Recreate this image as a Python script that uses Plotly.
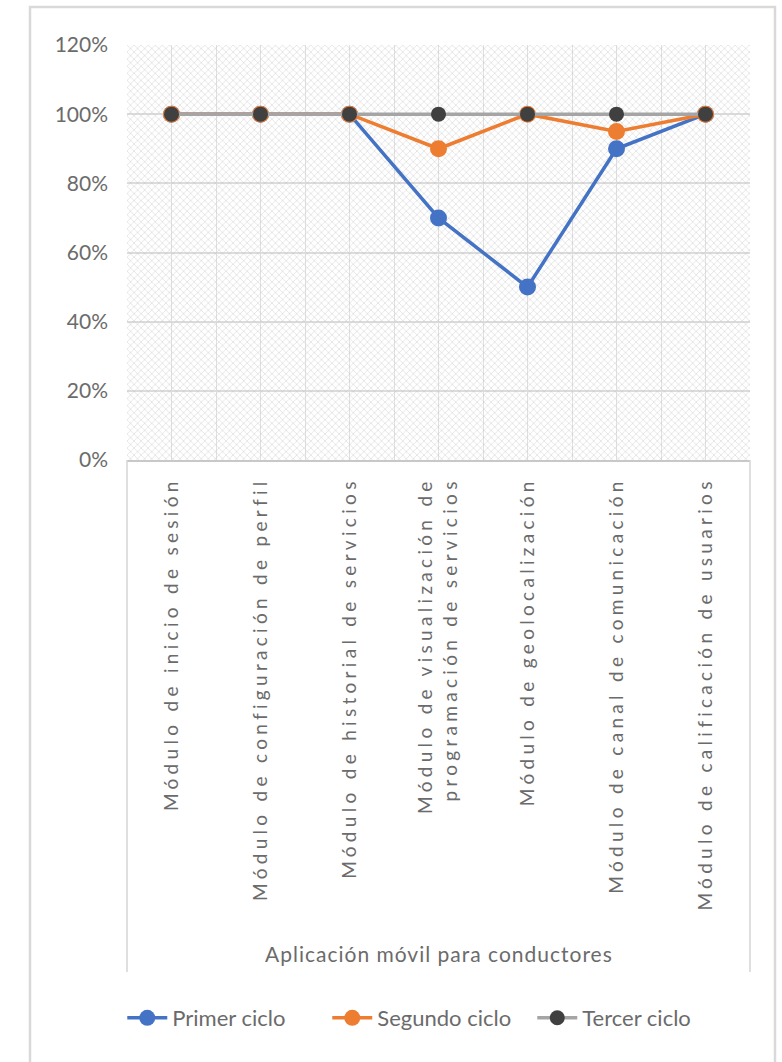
import plotly.graph_objects as go

categories = [
    "Módulo de inicio de sesión",
    "Módulo de configuración de perfil",
    "Módulo de historial de servicios",
    "Módulo de visualización de<br>programación de servicios",
    "Módulo de geolocalización",
    "Módulo de canal de comunicación",
    "Módulo de calificación de usuarios",
]
group_label = "Aplicación móvil para conductores"
primer = [1.00, 1.00, 1.00, 0.70, 0.50, 0.90, 1.00]
segundo = [1.00, 1.00, 1.00, 0.90, 1.00, 0.95, 1.00]
tercer = [1.00, 1.00, 1.00, 1.00, 1.00, 1.00, 1.00]
y_ticks = [0, 0.2, 0.4, 0.6, 0.8, 1.0, 1.2]
series_names = ["Primer ciclo", "Segundo ciclo", "Tercer ciclo"]

FONT = "Lato"
TXT = "#6b6b6b"
W, H = 782, 1062
L, R, T, B = 127, 32, 45, 602
plot_h = H - T - B
plot_w = W - L - R

x_rng = [-0.5, len(categories) - 0.5]
y_rng = [y_ticks[0], y_ticks[-1]]


def spaced(label, px):
    return "<br>".join(
        f'<span style="letter-spacing:{px}px">{part}</span>' for part in label.split("<br>")
    )


fig = go.Figure()

# hatched plot-area panel (decorative background)
fig.add_trace(go.Scatter(
    x=[x_rng[0], x_rng[1], x_rng[1], x_rng[0], x_rng[0]],
    y=[y_rng[0], y_rng[0], y_rng[1], y_rng[1], y_rng[0]],
    mode="none", fill="toself", fillcolor="rgba(0,0,0,0)",
    fillpattern=dict(shape="x", size=5, solidity=0.3, fgcolor="#c6c6c6",
                     bgcolor="rgba(0,0,0,0)"),
    hoverinfo="skip", showlegend=False, xaxis="x", yaxis="y",
))

styles = [
    dict(line=dict(color="#4472C4", width=3.5), marker=dict(color="#4472C4", size=17)),
    dict(line=dict(color="#ED7D31", width=3.5), marker=dict(color="#ED7D31", size=17)),
    dict(line=dict(color="#A5A5A5", width=3.5), marker=dict(color="#404040", size=15)),
]
for name, vals, st in zip(series_names, [primer, segundo, tercer], styles):
    fig.add_trace(go.Scatter(
        x=categories, y=vals, name=name, mode="lines+markers",
        line=st["line"], marker=st["marker"], xaxis="x2", yaxis="y2",
    ))

box_bottom = -(972 - (H - B)) / plot_h
fig.update_layout(
    width=W, height=H,
    margin=dict(l=L, r=R, t=T, b=B),
    paper_bgcolor="white", plot_bgcolor="white",
    font=dict(family=FONT, color=TXT),
    showlegend=True,
    legend=dict(orientation="h", x=0.486, xanchor="center",
                y=-(1018 - (H - B)) / plot_h, yanchor="middle",
                font=dict(family=FONT, size=22, color=TXT),
                itemwidth=40, entrywidth=150, entrywidthmode="pixels"),
    xaxis=dict(range=x_rng, tick0=x_rng[0], dtick=0.5, showgrid=True,
               gridcolor="#e0e0e0", gridwidth=1, showticklabels=False,
               zeroline=False, showline=False, fixedrange=True),
    yaxis=dict(range=y_rng, tickvals=y_ticks, tickformat=".0%", showgrid=True,
               gridcolor="#dcdcdc", gridwidth=1.5, zeroline=False, showline=False,
               ticklabelstandoff=18,
               tickfont=dict(family=FONT, size=21, color=TXT), fixedrange=True),
    xaxis2=dict(overlaying="x", type="category", categoryorder="array",
                categoryarray=categories, range=x_rng,
                tickvals=categories, ticktext=[spaced(c, 4.3) for c in categories],
                tickangle=-90, ticklabelstandoff=8, showgrid=False,
                showline=True, linecolor="#c8c8c8", linewidth=1.5,
                anchor="y2", side="bottom",
                tickfont=dict(family=FONT, size=19, color=TXT), fixedrange=True),
    yaxis2=dict(overlaying="y", range=y_rng, visible=False, anchor="x2",
                fixedrange=True),
    shapes=[
        dict(type="line", xref="paper", yref="paper", x0=0, x1=0, y0=0, y1=box_bottom,
             line=dict(color="#d4d4d4", width=1.5)),
        dict(type="line", xref="paper", yref="paper", x0=1, x1=1, y0=0, y1=box_bottom,
             line=dict(color="#d4d4d4", width=1.5)),
        dict(type="rect", xref="paper", yref="paper",
             x0=(30 - L) / plot_w, x1=(775 - L) / plot_w,
             y0=(H - B - 7) / plot_h, y1=-(1080 - (H - B)) / plot_h,
             line=dict(color="#d9d9d9", width=2.5), fillcolor="rgba(0,0,0,0)"),
    ],
    annotations=[
        dict(text=spaced(group_label, 1.0), xref="paper", yref="paper", x=0.5,
             y=-(953 - (H - B)) / plot_h, xanchor="center", yanchor="middle",
             showarrow=False, font=dict(family=FONT, size=21, color=TXT)),
    ],
)

fig.write_html("out.html")
